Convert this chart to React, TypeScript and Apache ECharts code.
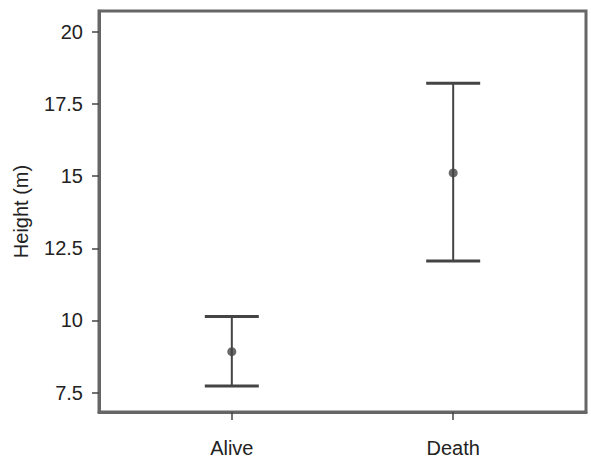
import React, { useEffect, useRef } from "react";
import * as echarts from "echarts";

const categories = ["Alive", "Death"];
const positions = [1, 2];
const means = [8.92, 15.11];
const lowers = [7.73, 12.06];
const uppers = [10.14, 18.22];
const yTicks = [7.5, 10, 12.5, 15, 17.5, 20];
const yTickLabels = ["7.5", "10", "12.5", "15", "17.5", "20"];

const FONT = "Liberation Sans";
const INK = "#444";

export default function App() {
  const ref = useRef<HTMLDivElement>(null);
  useEffect(() => {
    if (!ref.current) return;
    const chart = echarts.init(ref.current, undefined, { renderer: "svg" });
    const errData = positions.map((p, i) => [p, lowers[i], uppers[i]]);
    const meanData = positions.map((p, i) => [p, means[i]]);
    chart.setOption({
      animation: false,
      backgroundColor: "#fff",
      grid: {
        left: 99,
        right: 5,
        top: 11,
        bottom: 52,
        show: true,
        borderColor: "#666",
        borderWidth: 3,
        backgroundColor: "transparent",
      },
      xAxis: {
        type: "value",
        min: 0.4,
        max: 2.6,
        splitLine: { show: false },
        axisLine: { show: true, lineStyle: { color: "#666", width: 3 } },
        axisTick: {
          show: true,
          customValues: positions,
          length: 8,
          lineStyle: { color: INK, width: 1.5 },
        },
        axisLabel: {
          customValues: positions,
          formatter: (v: number) => {
            const i = positions.indexOf(v);
            return i >= 0 ? categories[i] : "";
          },
          margin: 26,
          fontFamily: FONT,
          fontSize: 20,
          color: "#222",
        },
      },
      yAxis: {
        type: "value",
        min: 6.83,
        max: 20.72,
        name: "Height (m)",
        nameLocation: "middle",
        nameGap: 68,
        nameTextStyle: { fontFamily: FONT, fontSize: 20, color: "#222" },
        splitLine: { show: false },
        axisLine: { show: true, lineStyle: { color: "#666", width: 3 } },
        axisTick: {
          show: true,
          customValues: yTicks,
          length: 7,
          lineStyle: { color: INK, width: 1.5 },
        },
        axisLabel: {
          customValues: yTicks,
          formatter: (v: number) => {
            const i = yTicks.indexOf(v);
            return i >= 0 ? yTickLabels[i] : "";
          },
          margin: 16,
          fontFamily: FONT,
          fontSize: 20,
          color: "#222",
        },
      },
      series: [
        {
          type: "custom",
          data: errData,
          renderItem: (params: any, api: any) => {
            const x = api.value(0);
            const lo = api.coord([x, api.value(1)]);
            const hi = api.coord([x, api.value(2)]);
            const hw = 27;
            const style = { stroke: INK, lineWidth: 2 };
            return {
              type: "group",
              children: [
                { type: "line", shape: { x1: lo[0], y1: lo[1], x2: hi[0], y2: hi[1] }, style },
                { type: "line", shape: { x1: hi[0] - hw, y1: hi[1], x2: hi[0] + hw, y2: hi[1] }, style: { stroke: INK, lineWidth: 3 } },
                { type: "line", shape: { x1: lo[0] - hw, y1: lo[1], x2: lo[0] + hw, y2: lo[1] }, style: { stroke: INK, lineWidth: 3 } },
              ],
            };
          },
          encode: { x: 0, y: [1, 2] },
          z: 2,
        },
        {
          type: "scatter",
          data: meanData,
          symbol: "circle",
          symbolSize: 9,
          itemStyle: { color: INK },
          z: 3,
        },
      ],
    });
    return () => chart.dispose();
  }, []);
  return <div ref={ref} style={{ width: 591, height: 464, position: "absolute", left: 0, top: 0 }} />;
}
